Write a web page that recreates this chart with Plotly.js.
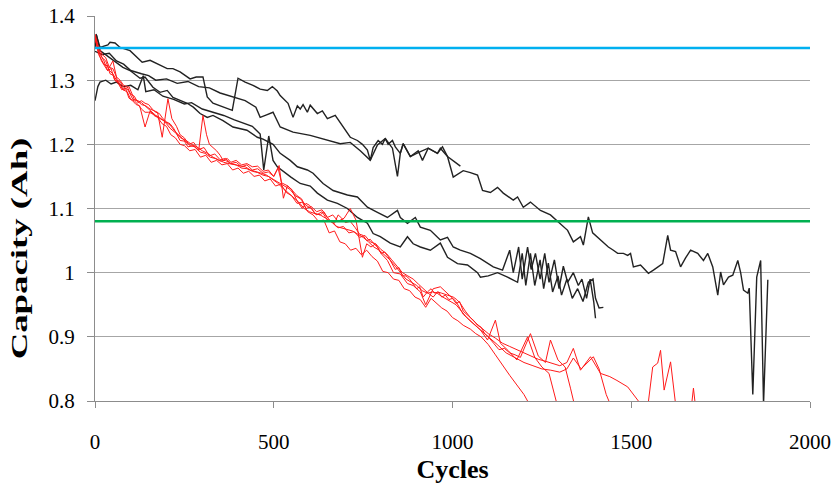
<!DOCTYPE html>
<html>
<head>
<meta charset="utf-8">
<script src="https://cdn.plot.ly/plotly-3.0.1.min.js"></script>
<style>
html,body{margin:0;padding:0;background:#fff;}
#chart{width:837px;height:488px;}
</style>
</head>
<body>
<div id="chart"></div>
<script>
// ---- Data ----
const refLevelsName = ['upper limit', 'lower limit'];
const refLevels = [1.35, 1.08];
const refX = [0, 2000];

const yTickVals = [0.8, 0.9, 1.0, 1.1, 1.2, 1.3, 1.4];
const yTickLabels = ['0.8', '0.9', '1', '1.1', '1.2', '1.3', '1.4'];
const xTickVals = [0, 500, 1000, 1500, 2000];
const xTickLabels = ['0', '500', '1000', '1500', '2000'];

// Black cells
const blackA_cycles = [3,14,36,42,56,70,98,118,132,154,182,202,218,238,266,283,302,314,330,358,384,400,420,442,462,482,496,510,518,540,554,566,574,582,594,602,622,636,650,672,686,714,734,748,762,770,778,792,804,812,820,832,840,854,862,882,904,916,932,958,972,986,1002,1030,1050,1070,1084,1106,1126,1142,1170,1182,1198,1218,1246,1274,1296,1322,1338,1358,1366,1380,1392,1422,1436,1450,1462,1478,1490,1498,1506,1526,1548,1562,1576,1588,1602,1610,1624,1638,1652,1666,1686,1702,1714,1728,1742,1750,1758,1772,1784,1798,1806,1814,1826,1830,1840,1851,1862,1870,1882];
const blackA_cap = [1.372,1.351,1.355,1.359,1.358,1.351,1.346,1.335,1.328,1.331,1.323,1.318,1.318,1.313,1.302,1.305,1.305,1.274,1.264,1.258,1.253,1.303,1.297,1.292,1.286,1.284,1.29,1.283,1.276,1.264,1.242,1.26,1.255,1.262,1.25,1.261,1.248,1.252,1.24,1.245,1.234,1.211,1.206,1.2,1.191,1.175,1.195,1.206,1.2,1.209,1.2,1.206,1.196,1.186,1.201,1.181,1.19,1.175,1.194,1.186,1.196,1.181,1.149,1.159,1.156,1.152,1.128,1.125,1.133,1.124,1.113,1.118,1.102,1.11,1.097,1.09,1.079,1.066,1.048,1.056,1.043,1.087,1.062,1.048,1.04,1.035,1.03,1.03,1.027,1.03,1.009,1.012,0.999,1.004,1.009,1.014,1.058,1.035,1.033,1.009,1.023,1.035,1.03,1.019,1.03,1.009,0.965,1.001,0.981,0.993,0.996,1.019,1.0,0.973,0.968,0.976,0.81,0.993,1.019,0.795,0.989];

const blackC_cycles = [0,20,40,60,80,100,130,150,170,200,230,260,290,320,350,380,420,450,462,480,498,518,554,602,650,686,714,742,770,790,812,832,846,854,862,882,904,932,958,966,986,1000,1022];
const blackC_cap = [1.345,1.34,1.342,1.33,1.325,1.315,1.31,1.307,1.3,1.302,1.295,1.298,1.29,1.288,1.28,1.275,1.268,1.258,1.242,1.246,1.25,1.227,1.219,1.214,1.206,1.201,1.203,1.19,1.175,1.199,1.209,1.194,1.15,1.186,1.201,1.181,1.187,1.194,1.186,1.194,1.181,1.175,1.166];

const blackD_cycles = [0,4,14,42,62,78,98,126,140,162,182,202,218,238,258,275,294,314,330,358,386,425,454,470,498,518,546,566,594,610,638,666,686,706,734,762,790,818,846,854,874,896,910,938,966,986,1002,1022,1050,1078,1114,1140,1160,1170,1185,1195,1210,1220,1232,1245,1258,1270,1285,1298,1310,1322,1338,1352,1362,1375,1385,1395,1400];
const blackD_cap = [1.35,1.37,1.346,1.335,1.326,1.32,1.315,1.303,1.305,1.289,1.281,1.284,1.273,1.268,1.264,1.258,1.248,1.242,1.245,1.237,1.227,1.222,1.211,1.208,1.2,1.186,1.175,1.165,1.16,1.155,1.139,1.128,1.124,1.121,1.118,1.102,1.094,1.086,1.097,1.086,1.077,1.086,1.071,1.066,1.051,1.055,1.04,1.035,1.03,1.022,1.009,1.004,1.035,1.0,1.04,0.99,1.04,1.005,1.03,0.99,1.03,0.985,1.02,0.975,1.01,0.985,1.0,0.98,0.99,0.96,0.99,0.955,0.929];

const blackE_cycles = [0,8,14,30,45,60,80,100,120,135,142,165,190,220,250,270,300,330,360,390,420,440,462,472,486,498,510,532,548,574,602,622,650,678,706,734,762,778,798,826,854,874,890,910,938,966,986,1014,1042,1070,1078,1100,1126,1154,1182,1195,1205,1218,1230,1245,1255,1268,1280,1295,1305,1320,1335,1350,1365,1380,1393,1400,1410,1422];
const blackE_cap = [1.268,1.29,1.297,1.3,1.294,1.297,1.29,1.292,1.285,1.307,1.282,1.285,1.275,1.27,1.263,1.265,1.255,1.25,1.245,1.238,1.232,1.228,1.216,1.16,1.213,1.175,1.165,1.155,1.149,1.139,1.135,1.124,1.113,1.108,1.1,1.086,1.077,1.061,1.056,1.046,1.04,1.056,1.045,1.04,1.035,1.046,1.024,1.014,1.012,1.0,0.993,0.995,1.0,0.993,0.985,1.03,0.98,1.03,0.98,1.02,0.975,1.015,0.97,0.995,0.965,0.99,0.96,0.975,0.955,0.985,0.99,0.96,0.945,0.946];

// Red cells
const red1_cycles = [0,10,25,35,45,55,65,75,85,95,105,115,125,140,154,165,175,188,200,212,225,238,250,265,280,295,310,325,340,355,370,385,400,415,430,445,460,475,490,505,520,535,550,565,580,595,610,625,640,655,670,685,700,715,730,745,760,775,790,805,820,835,850,865,880,895,910,925,940,955,970,985,1000,1015,1030,1050,1065,1080,1100,1120,1140,1160,1180,1200,1215];
const red1_cap = [1.37,1.345,1.33,1.315,1.318,1.3,1.295,1.285,1.288,1.272,1.268,1.262,1.26,1.227,1.252,1.245,1.242,1.232,1.228,1.215,1.21,1.2,1.198,1.19,1.192,1.18,1.183,1.172,1.175,1.168,1.17,1.16,1.163,1.155,1.158,1.15,1.152,1.143,1.146,1.135,1.138,1.125,1.12,1.108,1.11,1.095,1.09,1.08,1.082,1.062,1.065,1.048,1.045,1.035,1.038,1.028,1.035,1.025,1.018,1.002,1.0,0.99,0.988,0.975,0.972,0.962,0.958,0.946,0.96,0.952,0.945,0.94,0.93,0.925,0.918,0.912,0.905,0.9,0.888,0.872,0.855,0.84,0.825,0.81,0.795];

const red2_cycles = [0,8,20,30,40,50,60,70,80,92,106,118,130,142,154,165,175,188,204,215,228,238,250,262,276,290,305,320,335,350,365,380,395,410,425,440,455,470,485,500,512,522,540,552,565,578,590,605,620,635,650,665,680,697,714,730,748,760,772,785,800,818,835,854,874,890,910,925,946,966,990,1010,1030,1050,1078,1098,1120,1134,1155,1180,1210,1230,1250,1270,1290,1300];
const red2_cap = [1.365,1.35,1.335,1.33,1.315,1.31,1.3,1.298,1.289,1.285,1.27,1.268,1.262,1.26,1.255,1.252,1.25,1.211,1.271,1.24,1.228,1.215,1.21,1.2,1.203,1.192,1.195,1.182,1.185,1.176,1.178,1.17,1.172,1.165,1.168,1.16,1.162,1.155,1.157,1.15,1.163,1.14,1.135,1.128,1.12,1.115,1.1,1.103,1.095,1.098,1.086,1.09,1.08,1.085,1.1,1.082,1.024,1.045,1.04,1.045,1.03,1.019,1.0,0.998,0.983,0.98,0.97,0.95,0.975,0.978,0.965,0.955,0.935,0.925,0.911,0.895,0.926,0.89,0.879,0.864,0.9,0.868,0.853,0.843,0.8,0.785];

const red3_cycles = [0,8,20,30,40,50,60,70,80,90,100,110,120,130,140,150,160,170,180,190,200,210,220,230,238,250,260,275,290,302,312,320,330,340,350,358,370,380,395,410,425,440,455,470,485,500,515,527,538,550,565,580,590,600,615,630,640,650,660,670,680,690,700,714,728,740,750,760,770,780,790,800,810,820,830,840,850,860,870,880,890,900,908,918,930,940,950,960,970,980,990,1000,1010,1020,1030,1040,1050,1060,1070,1080,1090,1100,1115,1130,1145,1160,1175,1190,1218,1240,1260,1274,1295,1315,1330,1345];
const red3_cap = [1.372,1.355,1.34,1.335,1.32,1.318,1.305,1.3,1.292,1.29,1.278,1.275,1.265,1.268,1.264,1.262,1.255,1.25,1.248,1.24,1.235,1.232,1.225,1.215,1.206,1.205,1.196,1.198,1.19,1.245,1.215,1.2,1.195,1.19,1.183,1.175,1.178,1.172,1.175,1.168,1.17,1.165,1.166,1.158,1.16,1.15,1.167,1.116,1.135,1.13,1.112,1.1,1.108,1.105,1.092,1.09,1.095,1.086,1.08,1.077,1.09,1.085,1.078,1.08,1.07,1.06,1.058,1.05,1.052,1.045,1.04,1.03,1.032,1.025,1.015,1.005,1.008,0.995,0.995,0.99,0.982,0.975,0.978,0.962,0.97,0.975,0.968,0.97,0.962,0.965,0.958,0.96,0.952,0.955,0.94,0.935,0.93,0.925,0.918,0.915,0.905,0.9,0.89,0.88,0.882,0.875,0.872,0.868,0.905,0.87,0.86,0.895,0.864,0.853,0.82,0.785];

const red4_cycles = [0,10,25,35,42,50,56,66,78,90,100,110,120,130,140,150,160,170,182,195,210,224,238,252,266,280,294,308,322,336,350,365,380,395,410,425,440,455,470,485,500,515,530,545,560,575,590,605,620,635,650,665,680,695,710,725,740,755,770,785,800,815,830,845,860,875,890,905,918,932,946,958,970,985,1002,1012,1022,1036,1050,1064,1078,1090,1100,1120,1140,1160,1180,1200,1220,1240,1260,1280,1300,1320,1338,1358,1386,1414,1440,1460,1490,1520,1530];
const red4_cap = [1.368,1.34,1.325,1.322,1.31,1.308,1.3,1.297,1.285,1.282,1.27,1.268,1.262,1.255,1.25,1.25,1.248,1.244,1.24,1.236,1.23,1.22,1.212,1.205,1.198,1.196,1.188,1.186,1.18,1.178,1.174,1.175,1.17,1.168,1.163,1.162,1.158,1.156,1.152,1.15,1.145,1.14,1.135,1.13,1.12,1.115,1.105,1.1,1.09,1.095,1.082,1.078,1.07,1.072,1.062,1.064,1.055,1.058,1.048,1.045,1.036,1.03,1.02,1.01,1.0,0.995,0.99,0.982,0.975,0.968,0.962,0.97,0.968,0.965,0.962,0.958,0.952,0.94,0.93,0.922,0.915,0.91,0.905,0.898,0.89,0.885,0.88,0.874,0.87,0.865,0.862,0.858,0.855,0.86,0.882,0.848,0.869,0.843,0.838,0.832,0.822,0.8,0.79];

const red5_cycles = [0,6,18,35,50,62,72,80,95,110,120,130,140,150,160,170,180,190,200,210,225,240,255,270,285,300,315,330,345,360,375,390,405,420,435,450,465,480,495,510,525,540,555,570,585,600,615,630,645,660,675,690,705,720,735,750,765,780,795,810,825,840,855,870,885,900,915,930,944,957,970,980,995,1010,1025,1040,1055,1070,1085,1100,1125,1150,1175,1200,1225,1250,1275,1300,1320,1338,1360,1394,1410,1430,1445,1480,1520,1546,1560,1574,1582,1592,1610,1624,1650,1668,1674,1680,1690];
const red5_cap = [1.37,1.35,1.33,1.315,1.33,1.3,1.292,1.285,1.29,1.27,1.268,1.265,1.26,1.255,1.25,1.245,1.242,1.238,1.232,1.225,1.218,1.21,1.206,1.2,1.196,1.19,1.186,1.18,1.176,1.172,1.17,1.168,1.166,1.165,1.16,1.158,1.155,1.152,1.146,1.14,1.132,1.125,1.118,1.11,1.1,1.095,1.092,1.09,1.085,1.08,1.072,1.07,1.068,1.065,1.06,1.055,1.048,1.04,1.035,1.028,1.02,1.01,1.0,0.99,0.985,0.98,0.972,0.968,0.97,0.968,0.963,0.96,0.955,0.95,0.94,0.93,0.922,0.915,0.908,0.9,0.888,0.875,0.868,0.86,0.855,0.85,0.848,0.845,0.85,0.867,0.85,0.869,0.85,0.81,0.79,0.77,0.77,0.79,0.853,0.859,0.879,0.817,0.861,0.795,0.77,0.79,0.82,0.79,0.77];

// ---- Traces ----
const blackSets = [[blackA_cycles, blackA_cap],[blackC_cycles, blackC_cap],[blackD_cycles, blackD_cap],[blackE_cycles, blackE_cap]];
const redSets = [[red1_cycles, red1_cap],[red2_cycles, red2_cap],[red3_cycles, red3_cap],[red4_cycles, red4_cap],[red5_cycles, red5_cap]];
const traces = [];
blackSets.forEach(s => traces.push({x: s[0], y: s[1], type: 'scatter', mode: 'lines', line: {color: '#222222', width: 1.4}, hoverinfo: 'skip'}));
redSets.forEach(s => traces.push({x: s[0], y: s[1], type: 'scatter', mode: 'lines', line: {color: '#ff1a1a', width: 1}, hoverinfo: 'skip'}));
const refColors = ['#00b0f0', '#00b050'];
refLevels.forEach((v, i) => traces.push({x: refX, y: [v, v], name: refLevelsName[i], type: 'scatter', mode: 'lines', line: {color: refColors[i], width: 2.5}, hoverinfo: 'skip'}));

const layout = {
  width: 837, height: 488,
  margin: {l: 95, r: 27, t: 16, b: 87},
  paper_bgcolor: '#ffffff', plot_bgcolor: '#ffffff',
  showlegend: false,
  font: {family: '"Liberation Serif", "Times New Roman", serif', color: '#000'},
  xaxis: {
    range: [0, 2000], tickvals: xTickVals, ticktext: xTickLabels,
    showgrid: false, zeroline: false,
    showline: true, linecolor: '#8c8c8c', linewidth: 1,
    ticks: 'outside', ticklen: 6, tickcolor: '#8c8c8c',
    tickfont: {size: 21, family: '"Liberation Serif", serif'},
    ticklabelstandoff: 16,
    title: {text: '<b>Cycles</b>', font: {size: 26, family: '"Liberation Serif", serif'}, standoff: 6}
  },
  yaxis: {
    range: [0.8, 1.4], tickvals: yTickVals, ticktext: yTickLabels,
    showgrid: true, gridcolor: '#a6a6a6', gridwidth: 1, zeroline: false,
    showline: true, linecolor: '#8c8c8c', linewidth: 1,
    ticks: 'outside', ticklen: 7, tickcolor: '#8c8c8c',
    tickfont: {size: 21, family: '"Liberation Serif", serif'},
    ticklabelstandoff: 8,
    title: {text: '<b>Capacity (Ah)</b>', font: {size: 23, family: '"Liberation Serif", serif'}, standoff: 14}
  }
};
Plotly.newPlot('chart', traces, layout, {staticPlot: true, displayModeBar: false}).then(function () {
  // The reference's vertical title is drawn elongated and sits a little lower than the plot centre.
  const t = document.querySelector('.ytitle');
  if (!t) return;
  const cx = parseFloat(t.getAttribute('x'));
  const cy = parseFloat(t.getAttribute('y'));
  const stretch = 1.6, shiftDown = 40;
  t.setAttribute('transform', 'rotate(-90,' + cx + ',' + cy + ') translate(' + (cx - shiftDown) + ',' + cy + ') scale(' + stretch + ',1) translate(' + (-cx) + ',' + (-cy) + ')');
});
</script>
</body>
</html>
